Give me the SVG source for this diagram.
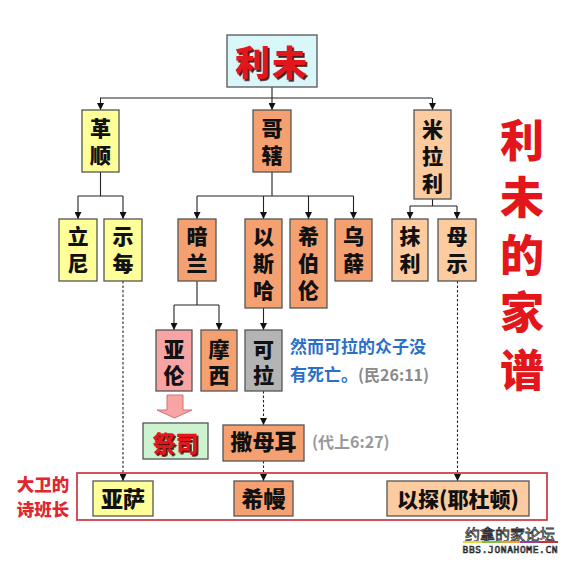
<svg xmlns="http://www.w3.org/2000/svg" width="572" height="562" viewBox="0 0 572 562">
<style>
.b{stroke:#555;stroke-width:1.3}
.y{fill:#ffff99}.o{fill:#f5a070}.p{fill:#fccca0}.k{fill:#f8a4a4}.g{fill:#b4b4b4}.gr{fill:#cdf2d0}.c{fill:#d9f6f8}
.t{font-family:"Noto Sans CJK SC","Liberation Sans",sans-serif;font-weight:900;text-anchor:middle;fill:#111}
.n{font-size:21px}
.ln{fill:none;stroke:#222;stroke-width:1.1}
.d{stroke-dasharray:2.5,2}
.red{fill:#e3161b}
</style>
<defs>
<marker id="a" viewBox="0 0 8 8" refX="8" refY="4" markerWidth="7" markerHeight="7" markerUnits="userSpaceOnUse" orient="auto"><path d="M0,0L8,4L0,8z" fill="#111"/></marker>
<filter id="s" x="-10%" y="-10%" width="130%" height="140%"><feDropShadow dx="1.8" dy="1.8" stdDeviation="0.4" flood-color="#3a0000" flood-opacity="0.9"/></filter>
</defs>
<rect width="572" height="562" fill="#fff"/>
<g id="connectors">
<path class="ln" d="M272,87V98M100,98H432"/>
<path class="ln" d="M100.5,98V110" marker-end="url(#a)"/>
<path class="ln" d="M272,98V110" marker-end="url(#a)"/>
<path class="ln" d="M432.5,98V110" marker-end="url(#a)"/>
<path class="ln" d="M100.5,172V196M78,196H123"/>
<path class="ln" d="M78,196V219" marker-end="url(#a)"/>
<path class="ln" d="M123,196V219" marker-end="url(#a)"/>
<path class="ln" d="M272,172V196M197,196H353.5"/>
<path class="ln" d="M197,196V219" marker-end="url(#a)"/>
<path class="ln" d="M263.5,196V219" marker-end="url(#a)"/>
<path class="ln" d="M308.5,196V219" marker-end="url(#a)"/>
<path class="ln" d="M353.5,196V219" marker-end="url(#a)"/>
<path class="ln" d="M432.5,199V206M410,206H457"/>
<path class="ln" d="M410,206V219" marker-end="url(#a)"/>
<path class="ln" d="M457,206V219" marker-end="url(#a)"/>
<path class="ln" d="M197,281V305M174,305H219"/>
<path class="ln" d="M174,305V330" marker-end="url(#a)"/>
<path class="ln" d="M219,305V330" marker-end="url(#a)"/>
<path class="ln" d="M263.5,308V330" marker-end="url(#a)"/>
<path class="ln d" d="M263.5,391V425" marker-end="url(#a)"/>
<path class="ln d" d="M263.5,461V481" marker-end="url(#a)"/>
<path class="ln d" d="M123,281V481" marker-end="url(#a)"/>
<path class="ln d" d="M457.5,281V481" marker-end="url(#a)"/>
<path d="M167,395H183V410H192L174.5,418L157,410H167Z" fill="#f8a4a4" stroke="#d07070" stroke-width="1"/>
</g>
<g id="n-liwei"><rect class="b c" x="227" y="35" width="90" height="52"/><text class="t red" x="272" y="76" font-size="35" letter-spacing="2" filter="url(#s)">利未</text></g>
<g id="n-geshun"><rect class="b y" x="82" y="110" width="37" height="62"/><text class="t n" x="100.5" y="136">革</text><text class="t n" x="100.5" y="163">顺</text></g>
<g id="n-gehe"><rect class="b o" x="253" y="110" width="38" height="62"/><text class="t n" x="272" y="136">哥</text><text class="t n" x="272" y="163">辖</text></g>
<g id="n-milali"><rect class="b p" x="414" y="110" width="37" height="89"/><text class="t n" x="432.5" y="137">米</text><text class="t n" x="432.5" y="164">拉</text><text class="t n" x="432.5" y="191">利</text></g>
<g id="n-lini"><rect class="b y" x="59" y="219" width="38" height="62"/><text class="t n" x="78" y="244">立</text><text class="t n" x="78" y="271">尼</text></g>
<g id="n-shimei"><rect class="b y" x="104" y="219" width="38" height="62"/><text class="t n" x="123" y="244">示</text><text class="t n" x="123" y="271">每</text></g>
<g id="n-anlan"><rect class="b o" x="178" y="219" width="38" height="62"/><text class="t n" x="197" y="244">暗</text><text class="t n" x="197" y="271">兰</text></g>
<g id="n-yisiha"><rect class="b o" x="245" y="219" width="37" height="89"/><text class="t n" x="263.5" y="244">以</text><text class="t n" x="263.5" y="271">斯</text><text class="t n" x="263.5" y="298">哈</text></g>
<g id="n-xibolun"><rect class="b o" x="290" y="219" width="37" height="89"/><text class="t n" x="308.5" y="244">希</text><text class="t n" x="308.5" y="271">伯</text><text class="t n" x="308.5" y="298">伦</text></g>
<g id="n-wuxue"><rect class="b o" x="335" y="219" width="37" height="62"/><text class="t n" x="353.5" y="244">乌</text><text class="t n" x="353.5" y="271">薛</text></g>
<g id="n-moli"><rect class="b p" x="392" y="219" width="36" height="62"/><text class="t n" x="410" y="244">抹</text><text class="t n" x="410" y="271">利</text></g>
<g id="n-mushi"><rect class="b p" x="438" y="219" width="38" height="62"/><text class="t n" x="457" y="244">母</text><text class="t n" x="457" y="271">示</text></g>
<g id="n-yalun"><rect class="b k" x="156" y="330" width="36" height="61"/><text class="t n" x="174" y="357">亚</text><text class="t n" x="174" y="383">伦</text></g>
<g id="n-moxi"><rect class="b o" x="201" y="330" width="36" height="61"/><text class="t n" x="219" y="357">摩</text><text class="t n" x="219" y="383">西</text></g>
<g id="n-kela"><rect class="b g" x="245" y="330" width="37" height="61"/><text class="t n" x="263.5" y="357">可</text><text class="t n" x="263.5" y="383">拉</text></g>
<g id="note-kela"><text class="t" x="290" y="353" font-size="17" style="text-anchor:start;fill:#2a6fc8;font-weight:bold">然而可拉的众子没</text><text class="t" x="290" y="381" font-size="17" style="text-anchor:start;fill:#2a6fc8;font-weight:bold">有死亡。<tspan style="fill:#8a8a8a" font-size="16">(民26:11)</tspan></text></g>
<g id="n-jisi"><rect class="b gr" x="143" y="423" width="65" height="36"/><text class="t red" x="175.5" y="452" font-size="23" filter="url(#s)">祭司</text></g>
<g id="n-samuer"><rect class="b o" x="223" y="425" width="81" height="36"/><text class="t" x="263.5" y="450" font-size="22">撒母耳</text></g>
<g id="note-dai"><text class="t" x="312" y="448" font-size="16" style="text-anchor:start;fill:#999;font-weight:bold">(代上6:27)</text></g>
<g id="singers"><rect x="77" y="473" width="470" height="47" fill="none" stroke="#d0404a" stroke-width="1.8"/><text class="t" x="43" y="491" font-size="17.5" style="fill:#e0262e">大卫的</text><text class="t" x="43" y="516" font-size="17.5" style="fill:#e0262e">诗班长</text></g>
<g id="n-yasa"><rect class="b y" x="93" y="481" width="60" height="35"/><text class="t" x="123" y="507" font-size="22">亚萨</text></g>
<g id="n-ximan"><rect class="b o" x="234" y="481" width="59" height="35"/><text class="t" x="263.5" y="507" font-size="22">希幔</text></g>
<g id="n-yitan"><rect class="b p" x="387" y="481" width="142" height="35"/><text class="t" x="458" y="507" font-size="21">以探(耶杜顿)</text></g>
<g id="title"><text class="t red" x="522" y="157" font-size="44">利</text><text class="t red" x="522" y="214" font-size="44">未</text><text class="t red" x="522" y="272" font-size="44">的</text><text class="t red" x="522" y="329" font-size="44">家</text><text class="t red" x="522" y="387" font-size="44">谱</text></g>
<g id="watermark"><text x="510" y="540" font-family="'Noto Sans CJK SC',sans-serif" font-size="15" text-anchor="middle" fill="#fff" stroke="#333" stroke-width="0.8">约拿的家论坛</text>
<rect x="463" y="541" width="19" height="2" fill="#e8d840"/><rect x="482" y="541" width="19" height="2" fill="#80c040"/><rect x="501" y="541" width="19" height="2" fill="#f0a030"/><rect x="520" y="541" width="19" height="2" fill="#9040b0"/><rect x="539" y="541" width="19" height="2" fill="#d03030"/>
<text x="510" y="553" font-family="'DejaVu Sans Mono',monospace" font-size="9.5" text-anchor="middle" fill="#fff" stroke="#222" stroke-width="0.7" textLength="95">BBS.JONAHOME.CN</text></g>
</svg>
